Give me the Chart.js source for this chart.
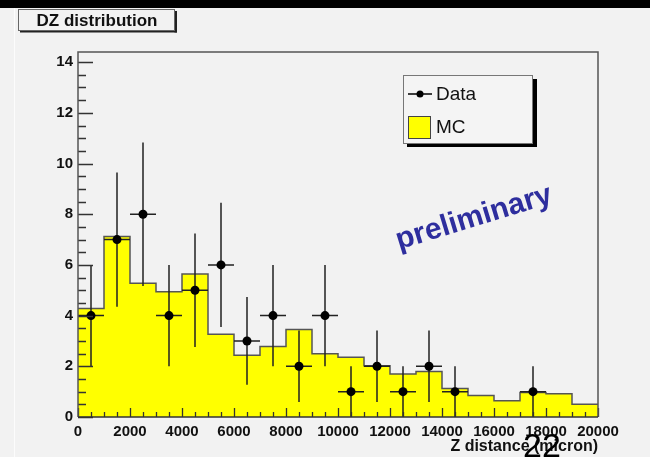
<!DOCTYPE html>
<html><head><meta charset="utf-8">
<style>html,body{margin:0;padding:0;background:#f2f2f2;overflow:hidden}#wrap{width:650px;height:457px;position:relative}canvas{display:block}</style>
<script src="https://cdn.jsdelivr.net/npm/chart.js@4.4.1/dist/chart.umd.min.js"></script>
</head><body><div id="wrap"><canvas id="c" width="650" height="457"></canvas></div>
<script>
// ---- data ----
const binEdges = [0,1000,2000,3000,4000,5000,6000,7000,8000,9000,10000,11000,12000,13000,14000,15000,16000,17000,18000,19000,20000];
const binCenters = [500,1500,2500,3500,4500,5500,6500,7500,8500,9500,10500,11500,12500,13500,14500,15500,16500,17500,18500,19500];
const mcValues = [4.28,7.12,5.28,4.94,5.64,3.26,2.44,2.78,3.45,2.50,2.36,2.02,1.70,1.80,1.12,0.85,0.64,0.97,0.92,0.50];
const dataCounts = [4,7,8,4,5,6,3,4,2,4,1,2,1,2,1,0,0,1,0,0];
const dataErrors = [2.00,2.65,2.83,2.00,2.24,2.45,1.73,2.00,1.41,2.00,1.00,1.41,1.00,1.41,1.00,0,0,1.00,0,0];
const xMajorTicks = [0,2000,4000,6000,8000,10000,12000,14000,16000,18000,20000];
const yMajorTicks = [0,2,4,6,8,10,12,14];
const xMinorStep = 500;
const yMinorStep = 0.5;
const seriesLabels = ['Data','MC'];
const chartTitle = 'DZ distribution';
const xAxisTitle = 'Z distance (micron)';
const watermark = 'preliminary';
const pageNumber = '22';

const FONT = "'Liberation Sans', Arial, Helvetica, sans-serif";
Chart.defaults.font.family = FONT;
Chart.defaults.color = '#000';

const mcPoints = binEdges.map((e,i)=>({x:e, y:mcValues[Math.min(i, mcValues.length-1)]}));
const dataPoints = [];
dataCounts.forEach((n,i)=>{ if(n>0) dataPoints.push({x:binCenters[i], y:n}); });

const background = {
  id:'background',
  beforeDraw(chart){
    const ctx = chart.ctx;
    ctx.save();
    ctx.fillStyle = '#f2f2f2'; ctx.fillRect(0,0,chart.width,chart.height);
    ctx.fillStyle = '#000'; ctx.fillRect(0,0,chart.width,8);
    ctx.fillStyle = '#fcfcfc'; ctx.fillRect(14,8,1,chart.height-8);
    ctx.restore();
  }
};

const errorBars = {
  id:'errorBars',
  beforeDatasetDraw(chart, args){
    if(args.index !== 0) return;
    const {ctx, scales:{x,y}} = chart;
    ctx.save();
    ctx.strokeStyle = '#222'; ctx.lineWidth = 1.5;
    dataCounts.forEach((n,i)=>{
      if(!n) return;
      const px = x.getPixelForValue(binCenters[i]);
      const py = y.getPixelForValue(n);
      ctx.beginPath();
      ctx.moveTo(x.getPixelForValue(binEdges[i]), py);
      ctx.lineTo(x.getPixelForValue(binEdges[i+1]), py);
      ctx.moveTo(px, y.getPixelForValue(n-dataErrors[i]));
      ctx.lineTo(px, y.getPixelForValue(n+dataErrors[i]));
      ctx.stroke();
    });
    ctx.restore();
  }
};

const frameAndTicks = {
  id:'frameAndTicks',
  afterDatasetsDraw(chart){
    const {ctx, chartArea:a, scales:{x,y}} = chart;
    ctx.save();
    ctx.strokeStyle = '#333'; ctx.lineWidth = 1.3;
    ctx.beginPath();
    for(let v=y.min; v<=y.max+1e-9; v+=yMinorStep){
      const py = Math.round(y.getPixelForValue(v))+0.5;
      const major = yMajorTicks.includes(Math.round(v*100)/100);
      ctx.moveTo(a.left, py); ctx.lineTo(a.left+(major?15:8), py);
    }
    for(let v=x.min; v<=x.max+1e-9; v+=xMinorStep){
      const px = Math.round(x.getPixelForValue(v))+0.5;
      const major = xMajorTicks.includes(v);
      ctx.moveTo(px, a.bottom); ctx.lineTo(px, a.bottom-(major?9:5));
    }
    ctx.stroke();
    // frame
    ctx.strokeStyle = '#555'; ctx.lineWidth = 1.5;
    ctx.beginPath();
    ctx.moveTo(a.left, a.bottom); ctx.lineTo(a.left, a.top); ctx.lineTo(a.right, a.top); ctx.lineTo(a.right, a.bottom);
    ctx.stroke();
    ctx.strokeStyle = '#333';
    ctx.beginPath(); ctx.moveTo(a.left, a.bottom); ctx.lineTo(a.right, a.bottom); ctx.stroke();
    ctx.restore();
  }
};

const decorations = {
  id:'decorations',
  afterDraw(chart){
    const ctx = chart.ctx;
    ctx.save();
    // title box
    ctx.fillStyle = '#222';
    ctx.fillRect(20,30,157,2.5);
    ctx.fillRect(174.5,11,2.5,21.5);
    ctx.fillStyle = '#f2f2f2';
    ctx.fillRect(18.5,9.5,156,21);
    ctx.strokeStyle = '#666'; ctx.lineWidth = 1;
    ctx.strokeRect(18.5,9.5,156,21);
    ctx.fillStyle = '#111';
    ctx.font = 'bold 17px ' + FONT;
    ctx.textAlign = 'center'; ctx.textBaseline = 'middle';
    ctx.fillText(chartTitle, 97, 21);

    // legend
    ctx.fillStyle = '#000';
    ctx.fillRect(407,79,130,68);
    ctx.fillStyle = '#f4f4f4';
    ctx.fillRect(403.5,75.5,129,68);
    ctx.strokeStyle = '#777'; ctx.lineWidth = 1;
    ctx.strokeRect(403.5,75.5,129,68);
    ctx.strokeStyle = '#000'; ctx.lineWidth = 1.5;
    ctx.beginPath(); ctx.moveTo(408,94); ctx.lineTo(432,94); ctx.stroke();
    ctx.fillStyle = '#000';
    ctx.beginPath(); ctx.arc(420,94,3.5,0,Math.PI*2); ctx.fill();
    ctx.fillStyle = '#ffff00';
    ctx.fillRect(408.5,116.5,22,22);
    ctx.strokeStyle = '#444'; ctx.lineWidth = 1;
    ctx.strokeRect(408.5,116.5,22,22);
    ctx.fillStyle = '#111';
    ctx.font = '19px ' + FONT;
    ctx.textAlign = 'left'; ctx.textBaseline = 'middle';
    ctx.fillText(seriesLabels[0], 436, 95);
    ctx.fillText(seriesLabels[1], 436, 128);

    // watermark
    ctx.save();
    ctx.translate(474, 218);
    ctx.rotate(-17*Math.PI/180);
    ctx.fillStyle = '#2e2e9e';
    ctx.font = 'bold 30px ' + FONT;
    ctx.textAlign = 'center'; ctx.textBaseline = 'middle';
    ctx.fillText(watermark, 0, 0);
    ctx.restore();

    // page number
    ctx.fillStyle = '#000';
    ctx.font = '34px ' + FONT;
    ctx.textAlign = 'left'; ctx.textBaseline = 'alphabetic';
    ctx.fillText(pageNumber, 523, 457);
    ctx.restore();
  }
};

new Chart(document.getElementById('c'), {
  type:'line',
  data:{
    datasets:[
      {label:seriesLabels[0], data:dataPoints, showLine:false, pointRadius:4.5, pointHoverRadius:4.5,
       pointBackgroundColor:'#000', pointBorderColor:'#000', pointBorderWidth:0},
      {label:seriesLabels[1], data:mcPoints, stepped:'before', fill:'origin',
       backgroundColor:'#ffff00', borderColor:'#555', borderWidth:1.5, pointRadius:0, pointHoverRadius:0}
    ]
  },
  options:{
    responsive:false, animation:false, events:[],
    layout:{padding:{left:0, top:52, right:52, bottom:0}},
    plugins:{legend:{display:false}, tooltip:{enabled:false}, title:{display:false}},
    scales:{
      x:{type:'linear', min:0, max:20000,
         afterFit(s){ s.height = 40; },
         grid:{display:false, drawTicks:false},
         border:{display:false},
         ticks:{stepSize:2000, padding:6, maxRotation:0, autoSkip:false, includeBounds:false,
                font:{size:15, weight:'bold'}, color:'#111', callback:v=>String(v)},
         title:{display:true, text:xAxisTitle, align:'end', color:'#111',
                font:{size:16, weight:'bold'}, padding:{top:0, bottom:1}}},
      y:{type:'linear', min:0, max:14.4,
         afterFit(s){ s.width = 78; },
         grid:{display:false, drawTicks:false},
         border:{display:false},
         ticks:{stepSize:2, padding:5, includeBounds:false,
                font:{size:15, weight:'bold'}, color:'#111', callback:v=>String(v)}}
    }
  },
  plugins:[background, errorBars, frameAndTicks, decorations]
});
</script></body></html>
